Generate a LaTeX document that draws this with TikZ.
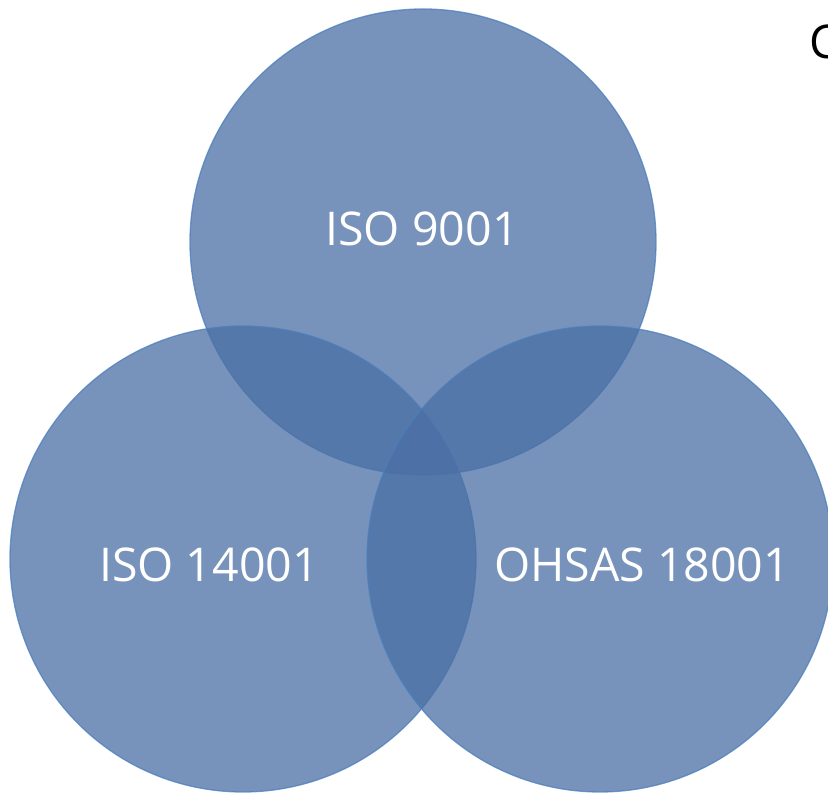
\documentclass[tikz,border=0pt]{standalone}
\usepackage{fontspec}
\setmainfont{Open Sans}
\definecolor{vennblue}{HTML}{4A6FA5}
\definecolor{vennline}{HTML}{4A7EBB}
\begin{document}
\begin{tikzpicture}[x=1pt,y=1pt,
  venn/.style={circle, minimum size=466pt, inner sep=0pt, fill=vennblue, draw=vennline, line width=1.3pt, opacity=0.75},
  lbl/.style={text=white, font=\fontsize{46.5}{54}\selectfont}]
\useasboundingbox (0,0) rectangle (828,794);
\node[venn] (top) at (423,552) {};
\node[venn] (bl) at (243,235) {};
\node[venn] (br) at (600,235) {};
\node[lbl] (t1) at (422,565) {ISO 9001};
\node[lbl] (t2) at (209,229) {ISO 14001};
\node[lbl] (t3) at (642,229) {OHSAS 18001};
\node[anchor=west, inner sep=0pt, font=\fontsize{46.5}{54}\selectfont] (c) at (809,752) {C};
\end{tikzpicture}
\end{document}
